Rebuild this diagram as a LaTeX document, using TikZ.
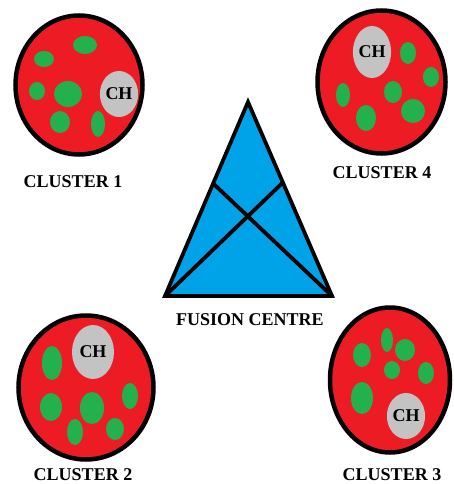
\documentclass[tikz,border=0pt]{standalone}
\usepackage{fontspec}
\setmainfont{Liberation Serif}
\usetikzlibrary{shapes.geometric,calc}
\definecolor{pred}{RGB}{237,28,36}
\definecolor{pgreen}{RGB}{34,177,76}
\definecolor{pgray}{RGB}{195,195,195}
\definecolor{pblue}{RGB}{0,162,232}
\tikzset{
  clusterbox/.style={ellipse, draw=black, line width=4.5pt, fill=pred, inner sep=0pt},
  blob/.style={ellipse, fill=pgreen, inner sep=0pt},
  chbox/.style={ellipse, fill=pgray, inner sep=0pt, font=\bfseries\fontsize{18}{20}\selectfont},
  lbl/.style={font=\bfseries\fontsize{18}{20}\selectfont, inner sep=0pt},
  fcline/.style={line width=3.8pt, line join=miter, line cap=round}
}
\newcommand{\blobat}[5]{\node[blob, minimum width=#3pt, minimum height=#4pt] (#5) at (#1,#2) {};}
\begin{document}
\begin{tikzpicture}[x=1pt,y=-1pt]
\useasboundingbox[fill=white] (0,0) rectangle (453,484);
% Cluster 1
\node[clusterbox, minimum width=127pt, minimum height=139pt] (c1) at (79,85) {};
\blobat{85}{45}{24}{18}{c1a}
\blobat{44}{59}{20}{16}{c1b}
\blobat{37}{91}{16}{18}{c1c}
\blobat{68}{94}{28}{26}{c1d}
\blobat{60}{122}{20}{22}{c1e}
\blobat{98}{124}{14}{26}{c1f}
\node[chbox, minimum width=30pt, minimum height=46pt] (ch1) at (119,94) {CH};
\node[lbl] (l1) at (73,182) {CLUSTER 1};
% Cluster 4
\node[clusterbox, minimum width=128pt, minimum height=143pt] (c4) at (381.5,82) {};
\blobat{408}{53}{16}{22}{c4a}
\blobat{431}{77}{16}{20}{c4b}
\blobat{343}{95}{14}{24}{c4c}
\blobat{393}{92}{18}{22}{c4d}
\blobat{413}{111}{24}{24}{c4e}
\blobat{366}{118}{20}{26}{c4f}
\node[chbox, minimum width=38pt, minimum height=52pt] (ch4) at (372,52) {CH};
\node[lbl] (l4) at (382,173) {CLUSTER 4};
% Cluster 2
\node[clusterbox, minimum width=135pt, minimum height=144pt] (c2) at (86,387.5) {};
\blobat{52}{363}{20}{34}{c2a}
\blobat{51}{407}{22}{28}{c2b}
\blobat{92}{408}{24}{32}{c2c}
\blobat{130}{396}{16}{26}{c2d}
\blobat{75}{432}{16}{26}{c2e}
\blobat{115}{429}{18}{22}{c2f}
\node[chbox, minimum width=42pt, minimum height=54pt] (ch2) at (93,352) {CH};
\node[lbl] (l2) at (83,475) {CLUSTER 2};
% Cluster 3
\node[clusterbox, minimum width=120pt, minimum height=145pt] (c3) at (390,380) {};
\blobat{387}{340}{12}{24}{c3a}
\blobat{362}{355}{18}{24}{c3b}
\blobat{405}{350}{20}{22}{c3c}
\blobat{392}{370}{16}{18}{c3d}
\blobat{426}{373}{16}{22}{c3e}
\blobat{362}{398}{22}{32}{c3f}
\node[chbox, minimum width=36pt, minimum height=46pt] (ch3) at (406,416) {CH};
\node[lbl] (l3) at (392,475) {CLUSTER 3};
% Fusion centre
\coordinate (apex) at (248,102);
\coordinate (bl) at (165,296);
\coordinate (br) at (332,296);
\coordinate (ls) at ($(bl)!0.58!(apex)$);
\coordinate (rs) at ($(br)!0.585!(apex)$);
\draw[fcline, fill=pblue] (apex) -- (bl) -- (br) -- cycle;
\draw[fcline] (bl) -- (rs);
\draw[fcline] (br) -- (ls);
\node[lbl] (fc) at (250,320) {FUSION CENTRE};
\end{tikzpicture}
\end{document}
